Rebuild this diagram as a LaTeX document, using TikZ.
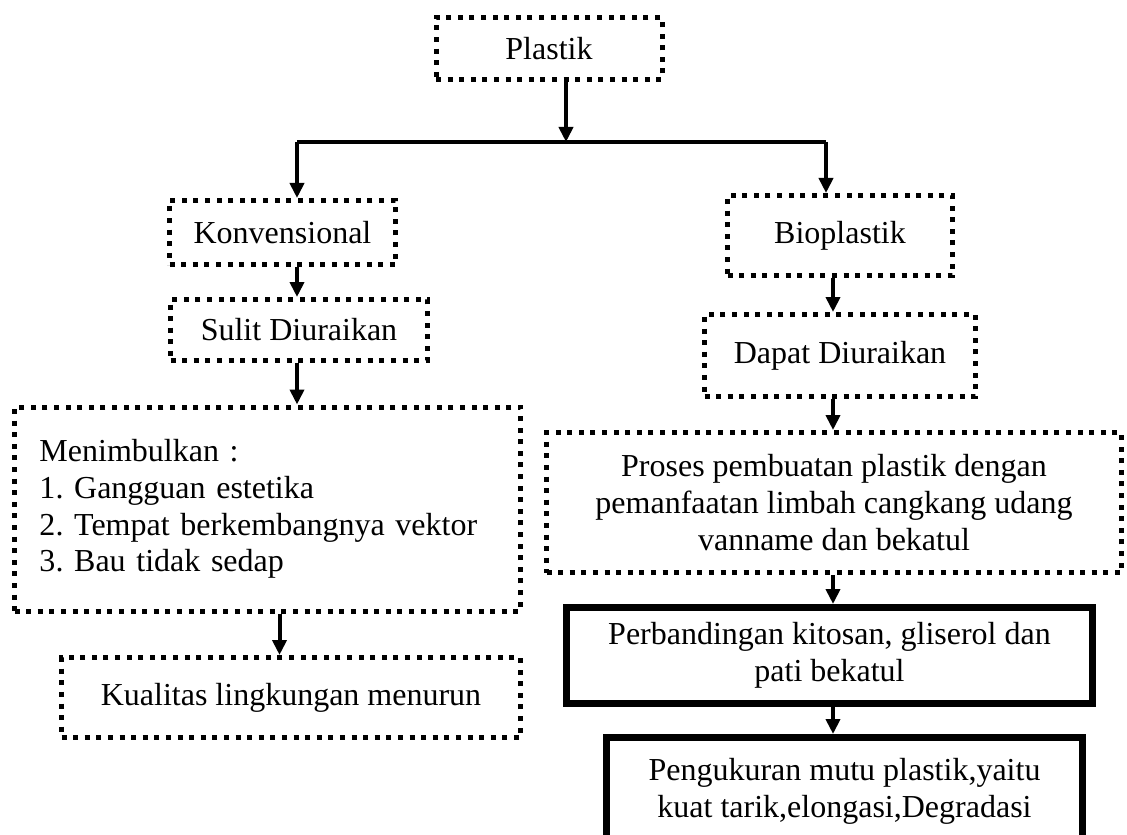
\documentclass[tikz,border=0pt]{standalone}
\usepackage{fontspec}
\setmainfont{Liberation Serif}
\usetikzlibrary{arrows.meta}

\begin{document}
\frenchspacing
\begin{tikzpicture}[x=0.5pt,y=-0.5pt,font=\fontsize{16}{18.3}\selectfont,
        dotbox/.style={draw, line width=2.5pt, dash pattern=on 2.5pt off 3.3pt, inner sep=0pt, align=center},
        solidbox/.style={draw, line width=3.7pt, inner sep=0pt, align=center},
        arr/.style={line width=2pt, -{Triangle[length=7.5pt,width=7pt]}}]
        \useasboundingbox (0,0) rectangle (1127,834);
        \clip (0,0) rectangle (1127,834);
        % boxes
        \node[dotbox, minimum width=113pt, minimum height=31pt] (plastik) at (549, 48.5) {Plastik};
        \node[dotbox, minimum width=113pt, minimum height=32pt] (konv) at (282.5, 232.5) {Konvensional};
        \node[dotbox, minimum width=128.5pt, minimum height=30.5pt] (sulit) at (299, 330) {Sulit Diuraikan};
        \node[dotbox, text width=228pt, inner xsep=12.5pt, minimum height=102pt, align=left] (dampak) at (267.5, 509)
            {Menimbulkan :\\1. Gangguan estetika\\2. Tempat berkembangnya vektor\\3. Bau tidak sedap};
        \node[dotbox, minimum width=229.5pt, minimum height=40pt] (kualitas) at (291, 697.5) {Kualitas lingkungan menurun};
        \node[dotbox, minimum width=112.5pt, minimum height=40pt] (bio) at (840, 235.5) {Bioplastik};
        \node[dotbox, minimum width=135.5pt, minimum height=41pt] (dapat) at (840, 355.5) {Dapat Diuraikan};
        \node[dotbox, minimum width=287.5pt, minimum height=70pt] (proses) at (834, 502.5)
            {Proses pembuatan plastik dengan\\pemanfaatan limbah cangkang udang\\vanname dan bekatul};
        \node[solidbox, minimum width=262.8pt, minimum height=47.8pt] (banding) at (829.5, 655.5)
            {Perbandingan kitosan, gliserol dan\\pati bekatul};
        \node[solidbox, minimum width=237.8pt, minimum height=53.8pt] (ukur) at (844.5, 791.5)
            {Pengukuran mutu plastik,yaitu\\kuat tarik,elongasi,Degradasi};
        % branching
        \coordinate (cabang) at (566, 142);
        \coordinate (kiri) at (297, 142);
        \coordinate (kanan) at (826, 142);
        \coordinate (jalur) at (833, 0);
        \draw[arr] (plastik.south -| cabang) -- (cabang);
        \draw[line width=2pt] (kiri) -- (kanan);
        \draw[arr] (kiri) -- (kiri |- konv.north);
        \draw[arr] (kanan) -- (kanan |- bio.north);
        \draw[arr] (kiri |- konv.south) -- (kiri |- sulit.north);
        \draw[arr] (kiri |- sulit.south) -- (kiri |- dampak.north);
        \draw[arr] ([xshift=6pt]dampak.south) -- ([xshift=6pt]dampak.south |- kualitas.north);
        \draw[arr] (jalur |- bio.south) -- (jalur |- dapat.north);
        \draw[arr] (jalur |- dapat.south) -- (jalur |- proses.north);
        \draw[arr] (jalur |- proses.south) -- (jalur |- banding.north);
        \draw[arr] (jalur |- banding.south) -- (jalur |- ukur.north);
    \end{tikzpicture}
\end{document}
